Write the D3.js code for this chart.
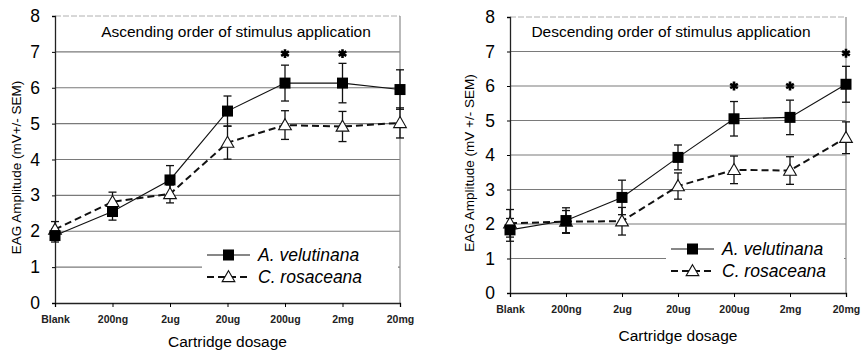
<!DOCTYPE html>
<html>
<head>
<meta charset="utf-8">
<script src="https://d3js.org/d3.v7.min.js"></script>
<style>
  body { margin: 0; background: #fff; }
  svg { font-family: "Liberation Sans", Arial, sans-serif; }
</style>
</head>
<body>
<svg width="866" height="353"></svg>
<script>
// cartridge dosages (x categories)
var dosages = ["Blank", "200ng", "2ug", "20ug", "200ug", "2mg", "20mg"];
var yTicks = [0, 1, 2, 3, 4, 5, 6, 7, 8];
var seriesNames = ["A. velutinana", "C. rosaceana"];

// ascending order of stimulus application
var ascVelutinana    = [1.88, 2.55, 3.43, 5.35, 6.13, 6.13, 5.95];
var ascVelutinanaErr = [0.18, 0.24, 0.40, 0.42, 0.50, 0.55, 0.55];
var ascRosaceana     = [2.05, 2.82, 3.04, 4.47, 4.96, 4.92, 5.02];
var ascRosaceanaErr  = [0.22, 0.27, 0.25, 0.46, 0.40, 0.42, 0.42];
var ascStarCats = ["200ug", "2mg"];
var ascStarVals = [6.95, 6.95];

// descending order of stimulus application
var descVelutinana    = [1.83, 2.10, 2.77, 3.93, 5.05, 5.09, 6.05];
var descVelutinanaErr = [0.33, 0.37, 0.50, 0.36, 0.50, 0.50, 0.52];
var descRosaceana     = [2.02, 2.07, 2.08, 3.10, 3.57, 3.55, 4.50];
var descRosaceanaErr  = [0.40, 0.32, 0.40, 0.38, 0.40, 0.40, 0.46];
var descStarCats = ["200ug", "2mg", "20mg"];
var descStarVals = [6.0, 6.0, 6.95];

var svg = d3.select("svg");

function drawPanel(p) {
  var x = d3.scalePoint().domain(dosages).range([p.x0, p.x1]);
  var y = d3.scaleLinear().domain([0, 8]).range([p.y0, p.y1]);
  var g = svg.append("g");

  // grid lines
  g.selectAll("line.grid")
    .data(yTicks.filter(function(d) { return d > 0 && d < 8; }))
    .enter().append("line")
      .attr("x1", p.x0).attr("x2", p.x1)
      .attr("y1", function(d) { return y(d); })
      .attr("y2", function(d) { return y(d); })
      .attr("stroke", "#7a7a7a")
      .attr("stroke-width", 1.2);

  // faint frame top and right
  g.append("line")
      .attr("x1", p.x0).attr("x2", p.x1)
      .attr("y1", y(8)).attr("y2", y(8))
      .attr("stroke", "#b0b0b0").attr("stroke-dasharray", "6,2");
  g.append("line")
      .attr("x1", p.x1).attr("x2", p.x1)
      .attr("y1", y(8)).attr("y2", y(0))
      .attr("stroke", "#8a8a8a").attr("stroke-width", 1.2);

  // axes
  var ya = g.append("g")
      .attr("transform", "translate(" + p.x0 + ",0)")
      .call(d3.axisLeft(y).tickValues(yTicks).tickSize(3).tickPadding(12).tickFormat(d3.format("d")));
  ya.select(".domain").attr("stroke", "#222").attr("stroke-width", 1.3);
  ya.selectAll("text").attr("font-size", 17.5).attr("fill", "#000").attr("font-family", "Liberation Sans");

  var xa = g.append("g")
      .attr("transform", "translate(0," + y(0) + ")")
      .call(d3.axisBottom(x).tickSize(4).tickPadding(9));
  xa.select(".domain").attr("stroke", "#222").attr("stroke-width", 1.3);
  xa.selectAll("text").attr("font-size", 10.5).attr("font-weight", "bold")
      .attr("fill", "#222").attr("font-family", "Liberation Sans");

  // titles
  g.append("text")
      .attr("x", p.titleX).attr("y", 37)
      .attr("text-anchor", "middle").attr("font-size", 15.5)
      .text(p.title);
  g.append("text")
      .attr("transform", "translate(" + p.yTitleX + "," + ((y(0) + y(8)) / 2 + 8) + ") rotate(-90)")
      .attr("text-anchor", "middle").attr("font-size", 13.5)
      .text(p.yTitle);
  g.append("text")
      .attr("x", (p.x0 + p.x1) / 2).attr("y", p.xTitleY)
      .attr("text-anchor", "middle").attr("font-size", 15.5)
      .text("Cartridge dosage");

  // legend background
  g.append("rect")
      .attr("x", p.legX).attr("y", p.legY)
      .attr("width", p.legW).attr("height", 50)
      .attr("fill", "#fff");

  var series = [
    { vals: p.a, err: p.aErr, dash: null, width: 1.1, marker: "square" },
    { vals: p.c, err: p.cErr, dash: "7,4", width: 2, marker: "triangle" }
  ];

  // lines
  var line = d3.line()
      .x(function(d, i) { return x(dosages[i]); })
      .y(function(d) { return y(d); });

  series.slice().reverse().forEach(function(s) {
    g.append("path")
        .datum(s.vals)
        .attr("d", line)
        .attr("fill", "none")
        .attr("stroke", "#111")
        .attr("stroke-width", s.width)
        .attr("stroke-dasharray", s.dash);
  });

  // error bars
  series.forEach(function(s) {
    var eb = g.append("g").selectAll("g")
        .data(s.vals.map(function(v, i) { return { cat: dosages[i], v: v, e: s.err[i] }; }))
        .enter().append("g")
        .attr("stroke", "#111").attr("stroke-width", 1.3);
    eb.append("line")
        .attr("x1", function(d) { return x(d.cat); })
        .attr("x2", function(d) { return x(d.cat); })
        .attr("y1", function(d) { return y(d.v - d.e); })
        .attr("y2", function(d) { return y(d.v + d.e); });
    [-1, 1].forEach(function(sign) {
      eb.append("line")
          .attr("x1", function(d) { return x(d.cat) - 4; })
          .attr("x2", function(d) { return x(d.cat) + 4; })
          .attr("y1", function(d) { return y(d.v + sign * d.e); })
          .attr("y2", function(d) { return y(d.v + sign * d.e); });
    });
  });

  // markers
  var tri = d3.symbol().type(d3.symbolTriangle).size(70);
  function marker(sel, type) {
    if (type === "square") {
      sel.append("rect")
          .attr("x", -5.5).attr("y", -5.5)
          .attr("width", 11).attr("height", 11)
          .attr("fill", "#000");
    } else {
      sel.append("path")
          .attr("d", tri)
          .attr("transform", "translate(0,1)")
          .attr("fill", "#fff")
          .attr("stroke", "#111")
          .attr("stroke-width", 1.1);
    }
  }
  series.slice().reverse().forEach(function(s) {
    g.append("g").selectAll("g")
        .data(s.vals)
        .enter().append("g")
        .attr("transform", function(d, i) { return "translate(" + x(dosages[i]) + "," + y(d) + ")"; })
        .each(function() { marker(d3.select(this), s.marker); });
  });

  // significance asterisks
  var star = d3.symbol().type(d3.symbolAsterisk).size(55);
  g.selectAll("path.star")
    .data(p.starCats.map(function(c, i) { return { cat: c, v: p.starVals[i] }; }))
    .enter().append("path")
      .attr("d", star)
      .attr("transform", function(d) { return "translate(" + x(d.cat) + "," + y(d.v) + ")"; })
      .attr("fill", "none").attr("stroke", "#000").attr("stroke-width", 2.6);

  // legend entries
  series.forEach(function(s, i) {
    var ly = p.legRowY + i * 22;
    g.append("line")
        .attr("x1", p.legLineX).attr("x2", p.legLineX + 43)
        .attr("y1", ly).attr("y2", ly)
        .attr("stroke", "#111").attr("stroke-width", s.width)
        .attr("stroke-dasharray", s.dash);
    var m = g.append("g").attr("transform", "translate(" + (p.legLineX + 21.5) + "," + ly + ")");
    marker(m, s.marker);
    g.append("text")
        .attr("x", p.legLineX + 51).attr("y", ly + 6)
        .attr("font-size", 17.5).attr("font-style", "italic")
        .text(seriesNames[i]);
  });
}

drawPanel({
  x0: 55, x1: 400, y0: 303, y1: 16,
  title: "Ascending order of stimulus application", titleX: 236,
  yTitle: "EAG Amplitude (mV+/- SEM)", yTitleX: 21, xTitleY: 347,
  a: ascVelutinana, aErr: ascVelutinanaErr, c: ascRosaceana, cErr: ascRosaceanaErr,
  starCats: ascStarCats, starVals: ascStarVals,
  legX: 202, legY: 241, legW: 196, legRowY: 255, legLineX: 207
});

drawPanel({
  x0: 510, x1: 846, y0: 293, y1: 17,
  title: "Descending order of stimulus application", titleX: 671,
  yTitle: "EAG Amplitude (mV +/- SEM)", yTitleX: 474, xTitleY: 341,
  a: descVelutinana, aErr: descVelutinanaErr, c: descRosaceana, cErr: descRosaceanaErr,
  starCats: descStarCats, starVals: descStarVals,
  legX: 666, legY: 235, legW: 178, legRowY: 249, legLineX: 671
});
</script>
</body>
</html>
